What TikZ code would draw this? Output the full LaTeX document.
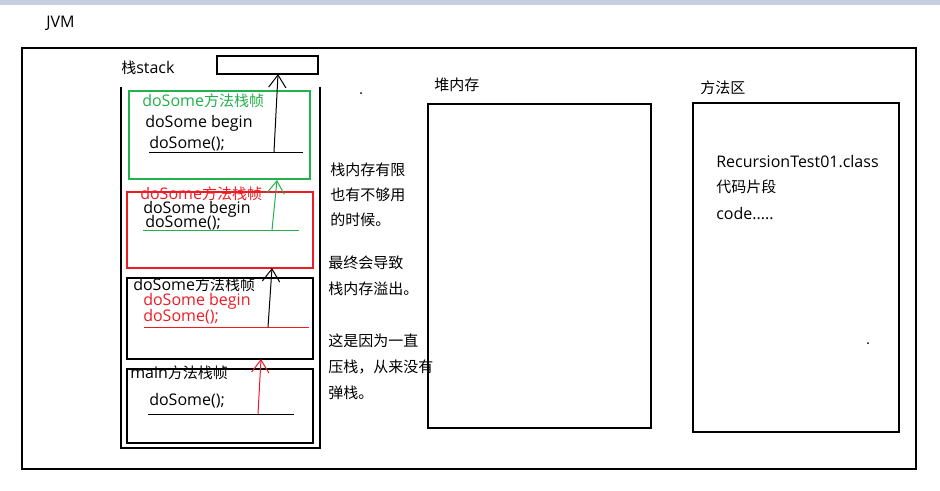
\documentclass[tikz,border=0pt]{standalone}
\usepackage{fontspec}
\setmainfont{Open Sans}
\newfontfamily\cjk{Noto Sans CJK SC}
\newcommand{\zh}[1]{{\cjk\fontsize{11.25}{14}\selectfont #1}}
\usetikzlibrary{arrows.meta}
\usepackage{xcolor}
\definecolor{jvmBar}{RGB}{198,207,224}
\definecolor{jvmGreen}{RGB}{34,177,76}
\definecolor{jvmRed}{RGB}{237,28,36}
\tikzset{
  txt/.style={anchor=west, inner sep=0pt, font=\fontsize{12}{14}\selectfont},
  box/.style={draw, line width=0.8pt},
  push/.style={-{Straight Barb[length=9.5pt,width=13pt]}, line width=0.75pt},
}

\begin{document}
\begin{tikzpicture}[x=0.75pt, y=-0.75pt]
    \useasboundingbox (0,0) rectangle (940,490);
    \fill[jvmBar] (0,0) rectangle (940,5);

    \node[txt] (jvm) at (46,23) {JVM};
    \draw[box] (22,48) rectangle (916,469);

    \node[txt] (stackLabel) at (121,68) {\zh{栈}stack};
    \draw[box] (217,56) rectangle (318,74);
    \coordinate (topTip) at (278,74);
    \draw[line width=0.8pt] (121,87) -- (121,448) -- (320,448) -- (320,87);

    \draw[box, draw=jvmGreen] (129,91) rectangle (310,179);
    \node[txt, text=jvmGreen] (greenTitle) at (142,101) {doSome\zh{方法栈帧}};
    \node[txt] (greenBegin) at (145,123) {doSome begin};
    \node[txt] (greenCall) at (149,144) {doSome();};
    \draw[line width=0.75pt] (149,152) -- (303,152);
    \coordinate (greenFrom) at (274,152);
    \coordinate (greenTip) at (277,180);

    \draw[box, draw=jvmRed] (127,192) rectangle (313,268);
    \node[txt, text=jvmRed] (redTitle) at (140,193.5) {doSome\zh{方法栈帧}};
    \node[txt] (redBegin) at (143,209) {doSome begin};
    \node[txt] (redCall) at (145,223) {doSome();};
    \draw[jvmGreen, line width=0.75pt] (143,230) -- (299,230);
    \coordinate (redFrom) at (272,230);
    \coordinate (redTip) at (272,268);

    \draw[box] (127,278) rectangle (313,359);
    \node[txt] (blackTitle) at (133,285) {doSome\zh{方法栈帧}};
    \node[txt, text=jvmRed] (blackBegin) at (143,301) {doSome begin};
    \node[txt, text=jvmRed] (blackCall) at (143,316.5) {doSome();};
    \draw[jvmRed, line width=0.75pt] (144,327) -- (309,327);
    \coordinate (blackFrom) at (268,327);
    \coordinate (blackTip) at (261,359);

    \draw[box] (127,369) rectangle (313,443);
    \node[txt] (mainTitle) at (130,373) {main\zh{方法栈帧}};
    \node[txt] (mainCall) at (149,401) {doSome();};
    \draw[line width=0.75pt] (148,414) -- (294,414);
    \coordinate (mainFrom) at (258,414);

    \draw[push] (greenFrom) -- (topTip);
    \draw[push, jvmGreen] (redFrom) -- (greenTip);
    \draw[push] (blackFrom) -- (redTip);
    \draw[push, jvmRed] (mainFrom) -- (blackTip);

    \node[txt] (note1) at (330,170) {\zh{栈内存有限}};
    \node[txt] (note2) at (330,195) {\zh{也有不够用}};
    \node[txt] (note3) at (330,220) {\zh{的时候。}};
    \node[txt] (note4) at (328,263) {\zh{最终会导致}};
    \node[txt] (note5) at (328,289) {\zh{栈内存溢出。}};
    \node[txt] (note6) at (328,341) {\zh{这是因为一直}};
    \node[txt] (note7) at (328,367) {\zh{压栈，从来没有}};
    \node[txt] (note8) at (328,393) {\zh{弹栈。}};

    \fill (361,93) circle (1);
    \fill (868,343) circle (1);

    \node[txt] (heapLabel) at (434,85) {\zh{堆内存}};
    \draw[box] (428,104) rectangle (651,428);

    \node[txt] (methodLabel) at (700,88) {\zh{方法区}};
    \draw[box] (693,103) rectangle (899,432);
    \node[txt] (classLine) at (716,162) {RecursionTest01.class};
    \node[txt] (codeLine) at (716,187) {\zh{代码片段}};
    \node[txt] (dotsLine) at (716,214) {code.....};
\end{tikzpicture}
\end{document}
